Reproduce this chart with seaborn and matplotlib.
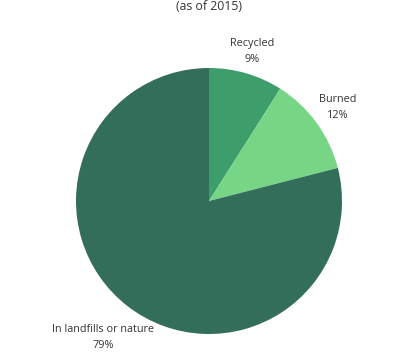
import numpy as np
import matplotlib
matplotlib.use('Agg')
import matplotlib.pyplot as plt
import seaborn as sns

# --- data ---
categories = ['Recycled', 'Burned', 'In landfills or nature']
shares = [9, 12, 79]
colors = ['#3d9e6c', '#77d685', '#336e5a']
label_dist = [1.17, 1.2, 1.30]

sns.set_theme(style='white')
plt.rcParams['font.family'] = ['Open Sans', 'DejaVu Sans']

fig = plt.figure(figsize=(4.2, 3.58), dpi=100)
ax = fig.add_axes([76 / 420, 24 / 358, 266 / 420, 266 / 358])

wedges, _ = ax.pie(shares, colors=colors, startangle=90, counterclock=False,
                   radius=1, wedgeprops=dict(linewidth=0))
ax.set_xlim(-1, 1)
ax.set_ylim(-1, 1)
ax.set_aspect('equal', adjustable='datalim')

for w, name, val, d in zip(wedges, categories, shares, label_dist):
    ang = np.deg2rad((w.theta1 + w.theta2) / 2)
    ax.text(d * np.cos(ang), d * np.sin(ang), f'{name}\n{val}%',
            ha='center', va='center', fontsize=7.8, color='#333333',
            linespacing=1.6)

fig.text(209 / 420, 1 - 7 / 358, '(as of 2015)', ha='center', va='center',
         fontsize=8.8, color='#333333')

fig.savefig('out.png', dpi=100, facecolor='white')
